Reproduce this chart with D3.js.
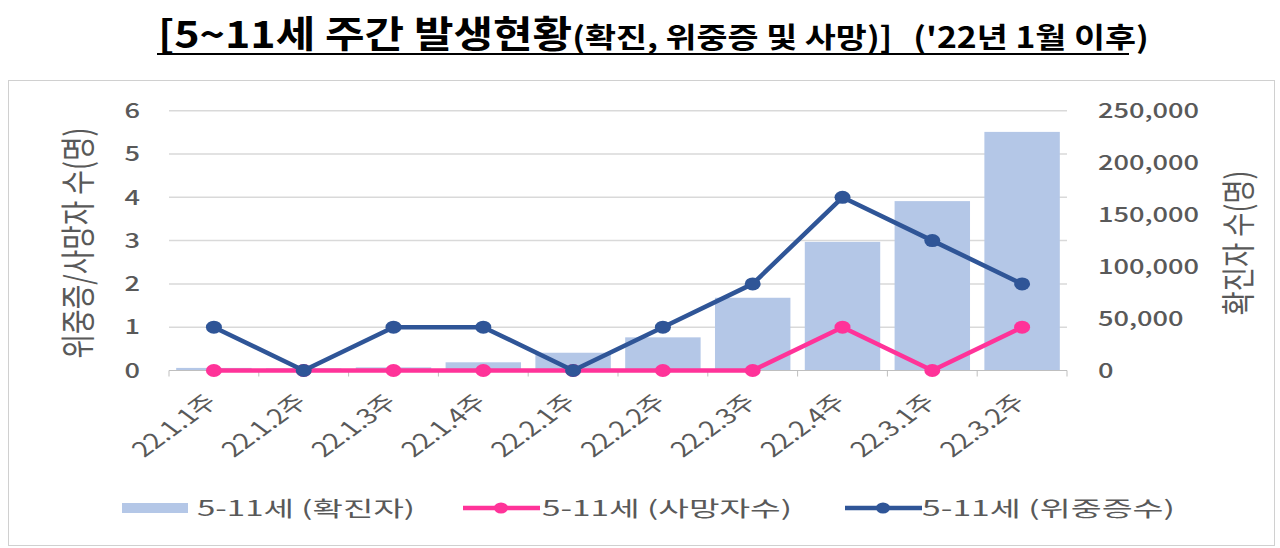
<!DOCTYPE html>
<html>
<head>
<meta charset="utf-8">
<script src="https://cdn.jsdelivr.net/npm/d3@7"></script>
<style>
  body { margin: 0; background: #fff; }
  svg text { font-family: "Noto Sans CJK KR", "Noto Sans", sans-serif; }
</style>
</head>
<body>
<svg id="chart" width="1280" height="548"></svg>
<script>
// weekly categories
const weeks = ['22.1.1주', '22.1.2주', '22.1.3주', '22.1.4주', '22.2.1주',
               '22.2.2주', '22.2.3주', '22.2.4주', '22.3.1주', '22.3.2주'];

// confirmed cases (right axis)
const confirmed = [2500, 2000, 3000, 7900, 17100, 31900, 70000, 123800, 163000, 229600];
// deaths and severe cases (left axis)
const deaths = [0, 0, 0, 0, 0, 0, 0, 1, 0, 1];
const severe = [1, 0, 1, 1, 0, 1, 2, 4, 3, 2];

const leftTicks = [0, 1, 2, 3, 4, 5, 6];
const rightTicks = [0, 50000, 100000, 150000, 200000, 250000];

const seriesNames = ['5-11세 (확진자)', '5-11세 (사망자수)', '5-11세 (위중증수)'];

const colors = { bar: '#b4c7e7', death: '#ff3399', severe: '#2f5597', text: '#595959', grid: '#d9d9d9' };

// the source picture is stretched sideways, so text gets widened too
const STRETCH = 1.36;

const svg = d3.select('#chart');

// title
const title = svg.append('text')
    .attr('x', 158)
    .attr('y', 48)
    .attr('font-weight', 'bold')
    .attr('fill', '#000');
title.append('tspan').attr('font-size', 37).text('[5~11세 주간 발생현황');
title.append('tspan').attr('font-size', 29).text('(확진, 위중증 및 사망)]');
title.append('tspan').attr('font-size', 29).attr('dx', 18).text("('22년 1월 이후)");

// squeeze title to the reference width
const titleW = title.node().getComputedTextLength();
const sx = (1128 - 158) / titleW;
title.attr('transform', `translate(158,0) scale(${sx},1) translate(-158,0)`);

svg.append('line')
    .attr('x1', 157).attr('x2', 1129)
    .attr('y1', 54).attr('y2', 54)
    .attr('stroke', '#000').attr('stroke-width', 2);

// chart frame
svg.append('rect')
    .attr('x', 8.5).attr('y', 80.5)
    .attr('width', 1266).attr('height', 465)
    .attr('fill', 'none')
    .attr('stroke', '#d0d0d0');

const plot = { left: 169, right: 1067, top: 110.7, bottom: 370.5 };

const x = d3.scaleBand()
    .domain(weeks)
    .range([plot.left, plot.right])
    .paddingInner(0.16)
    .paddingOuter(0.08);

const xPoint = d => x(d) + x.bandwidth() / 2;

const yLeft = d3.scaleLinear().domain([0, 6]).range([plot.bottom, plot.top]);
const yRight = d3.scaleLinear().domain([0, 250000]).range([plot.bottom, plot.top]);

// gridlines
svg.append('g')
    .selectAll('line')
    .data(leftTicks.filter(d => d > 0))
    .join('line')
    .attr('x1', plot.left).attr('x2', plot.right)
    .attr('y1', d => yLeft(d)).attr('y2', d => yLeft(d))
    .attr('stroke', colors.grid)
    .attr('stroke-width', 1.5);

// left axis labels
svg.append('g')
    .selectAll('text')
    .data(leftTicks)
    .join('text')
    .attr('transform', d => `translate(140,${yLeft(d)}) scale(${STRETCH},1)`)
    .attr('dy', '0.36em')
    .attr('text-anchor', 'end')
    .attr('font-size', 20)
    .attr('font-weight', 500)
    .attr('fill', colors.text)
    .text(d => d);

// right axis labels
svg.append('g')
    .selectAll('text')
    .data(rightTicks)
    .join('text')
    .attr('transform', d => `translate(1098,${yRight(d)}) scale(${STRETCH},1)`)
    .attr('dy', '0.36em')
    .attr('text-anchor', 'start')
    .attr('font-size', 20)
    .attr('font-weight', 500)
    .attr('fill', colors.text)
    .text(d => d3.format(',')(d));

// axis titles
svg.append('text')
    .attr('transform', `translate(91,243) scale(${STRETCH},1) rotate(-90)`)
    .attr('text-anchor', 'middle')
    .attr('font-size', 26)
    .attr('textLength', 231)
    .attr('lengthAdjust', 'spacingAndGlyphs')
    .attr('fill', colors.text)
    .text('위중증/사망자 수(명)');

svg.append('text')
    .attr('transform', `translate(1251,243) scale(${STRETCH},1) rotate(-90)`)
    .attr('text-anchor', 'middle')
    .attr('font-size', 25)
    .attr('textLength', 145)
    .attr('lengthAdjust', 'spacingAndGlyphs')
    .attr('fill', colors.text)
    .text('확진자 수(명)');

// bars
svg.append('g')
    .selectAll('rect')
    .data(confirmed)
    .join('rect')
    .attr('x', (d, i) => x(weeks[i]))
    .attr('y', d => yRight(d))
    .attr('width', x.bandwidth())
    .attr('height', d => plot.bottom - yRight(d))
    .attr('fill', colors.bar);

// x axis line and ticks
svg.append('line')
    .attr('x1', plot.left).attr('x2', plot.right)
    .attr('y1', plot.bottom).attr('y2', plot.bottom)
    .attr('stroke', '#bfbfbf').attr('stroke-width', 1.2);

svg.append('g')
    .selectAll('line')
    .data(d3.range(weeks.length + 1))
    .join('line')
    .attr('x1', i => plot.left + i * (plot.right - plot.left) / weeks.length)
    .attr('x2', i => plot.left + i * (plot.right - plot.left) / weeks.length)
    .attr('y1', plot.bottom).attr('y2', plot.bottom + 6)
    .attr('stroke', '#bfbfbf');

// x labels
svg.append('g')
    .selectAll('text')
    .data(weeks)
    .join('text')
    .attr('transform', d => `translate(${xPoint(d) + 5},${plot.bottom + 33}) scale(${STRETCH},1) rotate(-45)`)
    .attr('text-anchor', 'end')
    .attr('font-size', 21)
    .attr('fill', colors.text)
    .text(d => d);

// lines
function drawSeries(values, yScale, color) {
    const line = d3.line()
        .x((d, i) => xPoint(weeks[i]))
        .y(d => yScale(d));

    const g = svg.append('g');
    g.append('path')
        .datum(values)
        .attr('d', line)
        .attr('fill', 'none')
        .attr('stroke', color)
        .attr('stroke-width', 4.5)
        .attr('stroke-linejoin', 'round');

    g.selectAll('ellipse')
        .data(values)
        .join('ellipse')
        .attr('cx', (d, i) => xPoint(weeks[i]))
        .attr('cy', d => yScale(d))
        .attr('rx', 8)
        .attr('ry', 6.5)
        .attr('fill', color);
}

drawSeries(deaths, yLeft, colors.death);
drawSeries(severe, yLeft, colors.severe);

// legend
const legendY = 508;
const legend = svg.append('g');

legend.append('rect')
    .attr('x', 122).attr('y', legendY - 5)
    .attr('width', 66).attr('height', 10)
    .attr('fill', colors.bar);

[[463, colors.death], [845, colors.severe]].forEach(([lx, c]) => {
    legend.append('line')
        .attr('x1', lx).attr('x2', lx + 77)
        .attr('y1', legendY).attr('y2', legendY)
        .attr('stroke', c).attr('stroke-width', 4.5);
    legend.append('ellipse')
        .attr('cx', lx + 38).attr('cy', legendY)
        .attr('rx', 7).attr('ry', 5.5)
        .attr('fill', c);
});

const legendPos = [[197, 218], [542, 250], [922, 253]];
legend.selectAll('text')
    .data(seriesNames)
    .join('text')
    .attr('x', (d, i) => legendPos[i][0])
    .attr('y', legendY)
    .attr('dy', '0.36em')
    .attr('font-size', 21)
    .attr('textLength', (d, i) => legendPos[i][1])
    .attr('lengthAdjust', 'spacingAndGlyphs')
    .attr('fill', colors.text)
    .text(d => d);
</script>
</body>
</html>
